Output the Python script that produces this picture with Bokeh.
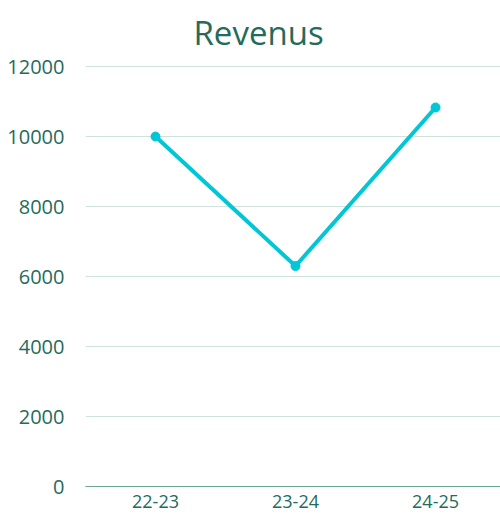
from bokeh.plotting import figure
from bokeh.models import Range1d, FixedTicker, ColumnDataSource
from bokeh.embed import file_html
from bokeh.resources import INLINE

categories = ["22-23", "23-24", "24-25"]
revenue = [10000, 6300, 10830]
y_ticks = [0, 2000, 4000, 6000, 8000, 10000, 12000]

xs = list(range(len(categories)))
src = ColumnDataSource(dict(x=xs, y=revenue))

TEXT = "#256b5b"
FONT = "Open Sans"

p = figure(width=500, height=514, output_backend="svg", toolbar_location=None,
           x_range=Range1d(-0.5, 2.464), y_range=Range1d(0, 12030),
           min_border_left=85, min_border_right=0, min_border_top=65, min_border_bottom=28)
p.outline_line_color = None
p.background_fill_color = "white"
p.border_fill_color = "white"

p.title.text = "Revenus"
p.title.align = "left"
p.title.vertical_align = "top"
p.title.offset = 108
p.title.standoff = 18
p.title.text_line_height = 0.8
p.title.text_font = FONT
p.title.text_font_size = "33px"
p.title.text_font_style = "normal"
p.title.text_color = TEXT

p.line("x", "y", source=src, line_color="#00c6d6", line_width=4)
p.scatter("x", "y", source=src, size=9, fill_color="#00c6d6", line_color="#00c6d6")

p.yaxis.ticker = FixedTicker(ticks=y_ticks)
p.yaxis.axis_line_color = None
p.yaxis.major_tick_line_color = None
p.yaxis.minor_tick_line_color = None
p.yaxis.major_label_standoff = 15
p.yaxis.major_label_text_font = FONT
p.yaxis.major_label_text_font_size = "20px"
p.yaxis.major_label_text_color = TEXT

p.xaxis.ticker = FixedTicker(ticks=xs)
p.xaxis.major_label_overrides = {i: c for i, c in enumerate(categories)}
p.xaxis.axis_line_color = "#6fa693"
p.xaxis.axis_line_width = 1
p.xaxis.major_tick_line_color = None
p.xaxis.minor_tick_line_color = None
p.xaxis.major_label_standoff = 2
p.xaxis.major_label_text_font = FONT
p.xaxis.major_label_text_font_size = "18px"
p.xaxis.major_label_text_color = TEXT

p.xgrid.grid_line_color = None
p.ygrid.ticker = FixedTicker(ticks=y_ticks)
p.ygrid.grid_line_color = "#cfe3dd"
p.ygrid.grid_line_width = 1

open("out.html", "w").write(file_html(p, INLINE))
